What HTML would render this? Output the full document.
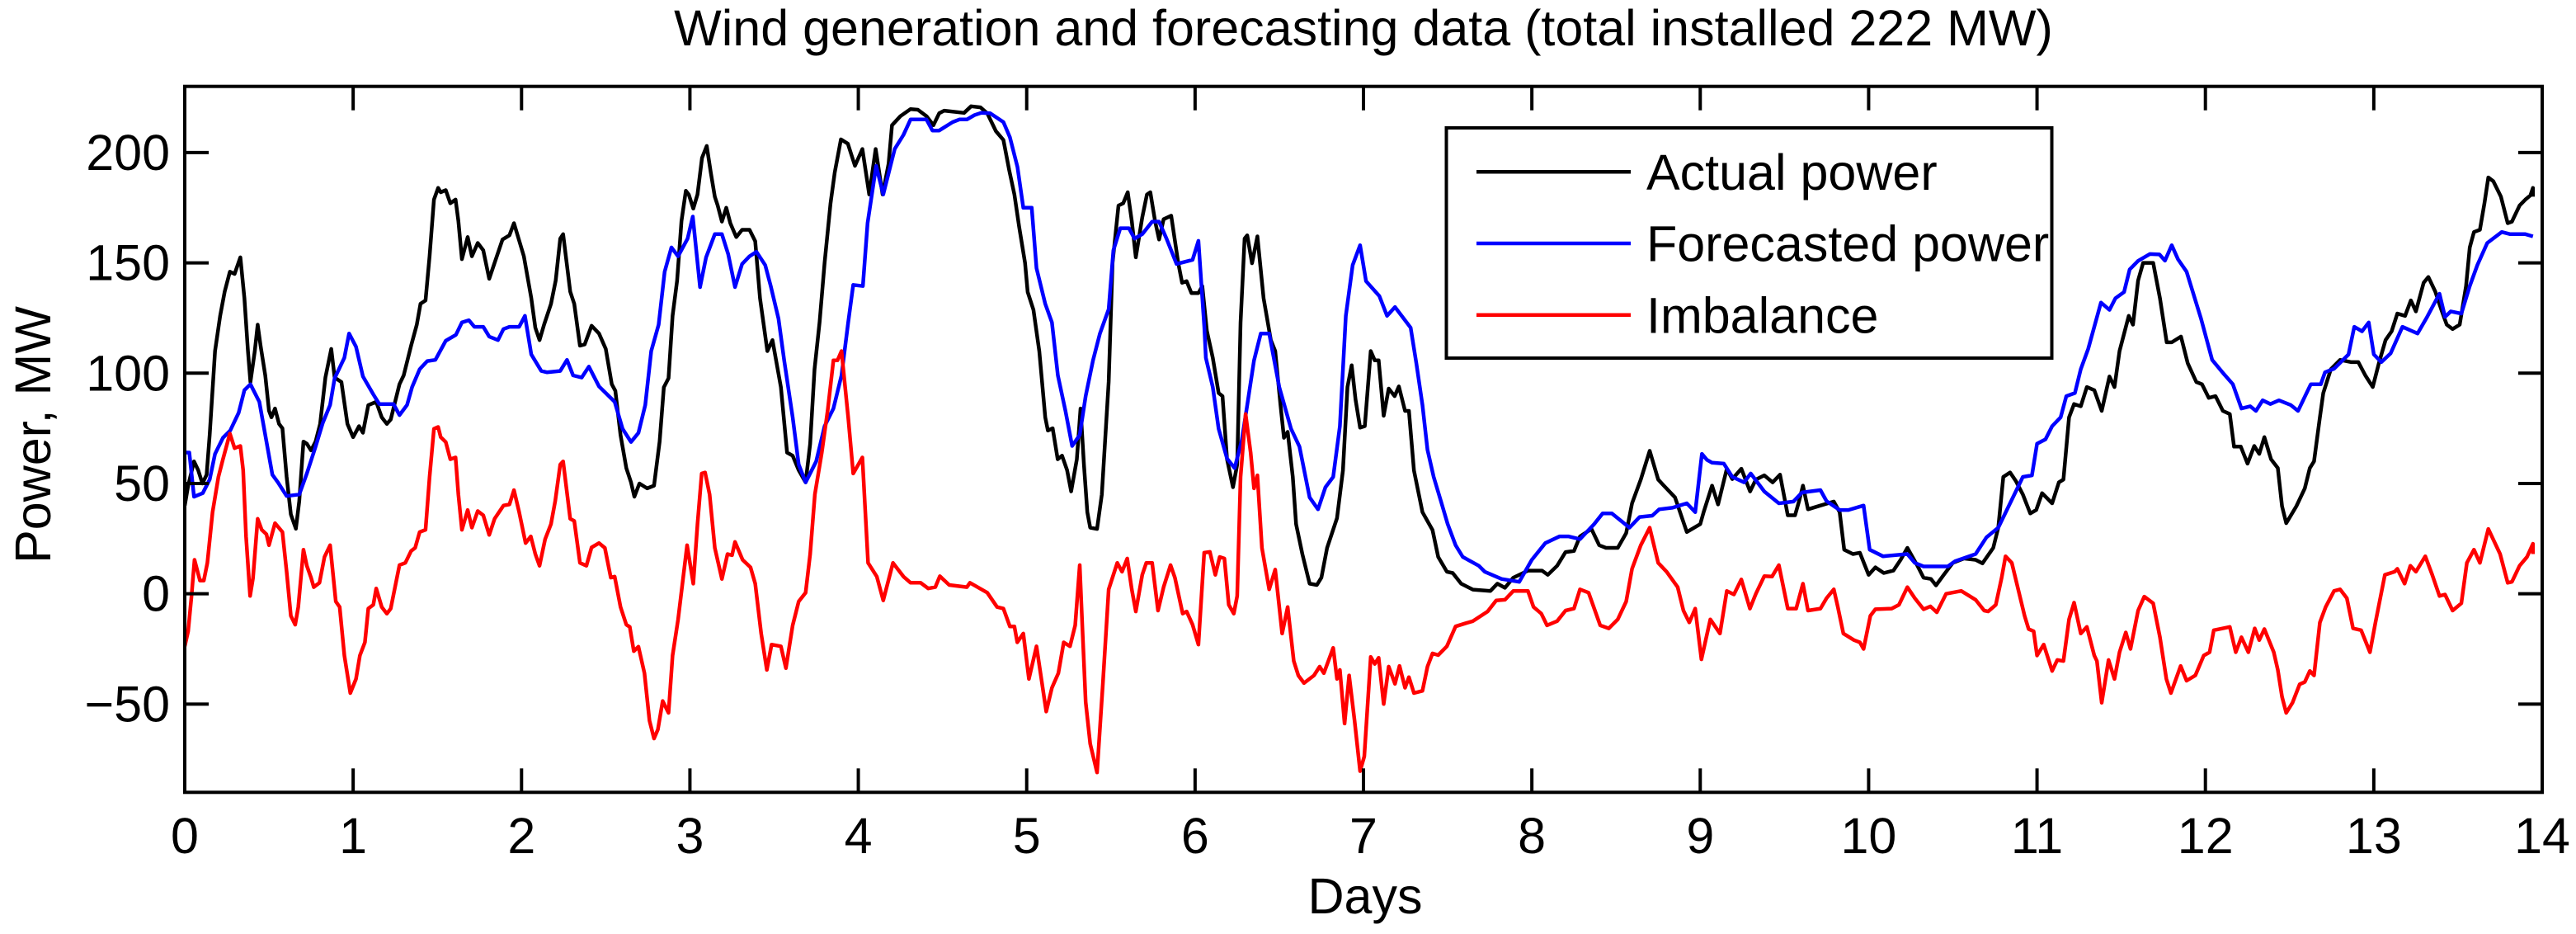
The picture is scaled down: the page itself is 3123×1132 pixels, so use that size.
<!DOCTYPE html>
<html lang="en">
<head>
<meta charset="utf-8">
<title>Wind generation and forecasting data</title>
<style>
html,body{margin:0;padding:0;background:#fff;}
svg{display:block;}
text{font-family:"Liberation Sans",Arial,sans-serif;fill:#000;}
</style>
</head>
<body>
<svg id="chart" xmlns="http://www.w3.org/2000/svg" width="3123" height="1132" viewBox="0 0 3123 1132">
  <rect x="0" y="0" width="3123" height="1132" fill="#fff"/>
  <text x="1653" y="55" font-size="61" text-anchor="middle">Wind generation and forecasting data (total installed 222 MW)</text>
  <g id="series"></g>
  <g id="axes"></g>
  <text x="1655" y="1107" font-size="61" text-anchor="middle">Days</text>
  <text transform="translate(61,527) rotate(-90)" font-size="61" text-anchor="middle">Power, MW</text>
  <g>
    <rect x="1753.5" y="155" width="734" height="279" fill="#fff" stroke="#000" stroke-width="4"/>
    <line x1="1790" x2="1977" y1="208.3" y2="208.3" stroke="#000" stroke-width="4.5"/>
    <text x="1996" y="230" font-size="61">Actual power</text>
    <line x1="1790" x2="1977" y1="295" y2="295" stroke="#0000ff" stroke-width="4.5"/>
    <text x="1996" y="316.7" font-size="61">Forecasted power</text>
    <line x1="1790" x2="1977" y1="381.7" y2="381.7" stroke="#ff0000" stroke-width="4.5"/>
    <text x="1996" y="403.4" font-size="61">Imbalance</text>
  </g>
</svg>
<script>
const xTicks = [0,1,2,3,4,5,6,7,8,9,10,11,12,13,14];
const yTicks = [-50,0,50,100,150,200];

const actualDays = [
0,.02,.055,.08,.105,.13,.148,.18,.21,.237,.268,.296,.33,.354,.375,.39,.416,.433,.45,.478,
.5,.515,.536,.56,.58,.605,.63,.66,.68,.705,.725,.75,.777,.804,.835,.87,.89,.93,.966,1,
1.035,1.058,1.09,1.137,1.17,1.2,1.223,1.275,1.3,1.344,1.378,1.4,1.43,1.454,1.48,1.505,1.52,1.55,1.577,1.608,
1.625,1.646,1.68,1.705,1.74,1.773,1.808,1.84,1.887,1.928,1.955,2.014,2.058,2.082,2.107,2.134,2.175,2.203,2.23,2.247,
2.289,2.313,2.347,2.375,2.416,2.46,2.5,2.536,2.557,2.588,2.622,2.65,2.67,2.7,2.746,2.787,2.82,2.845,2.873,2.897,
2.924,2.95,2.976,2.993,3.02,3.045,3.072,3.1,3.124,3.148,3.165,3.19,3.216,3.24,3.275,3.31,3.354,3.388,3.416,3.46,
3.49,3.54,3.577,3.61,3.646,3.687,3.714,3.74,3.77,3.8,3.835,3.86,3.897,3.938,3.98,4.024,4.065,4.103,4.144,4.18,
4.2,4.25,4.31,4.354,4.405,4.446,4.48,4.51,4.628,4.67,4.725,4.766,4.817,4.862,4.896,4.927,4.955,4.99,5.006,5.04,
5.075,5.11,5.126,5.154,5.184,5.21,5.24,5.264,5.298,5.32,5.34,5.36,5.377,5.418,5.446,5.487,5.51,5.545,5.573,5.6,
5.624,5.648,5.686,5.714,5.734,5.762,5.786,5.813,5.858,5.9,5.923,5.95,5.978,6.02,6.043,6.07,6.105,6.14,6.163,6.19,
6.225,6.25,6.27,6.294,6.31,6.338,6.37,6.407,6.45,6.476,6.507,6.528,6.55,6.58,6.6,6.637,6.68,6.723,6.75,6.784,
6.843,6.878,6.905,6.93,6.953,6.98,7.008,7.043,7.067,7.09,7.12,7.15,7.185,7.21,7.247,7.27,7.3,7.35,7.41,7.444,
7.495,7.53,7.58,7.65,7.754,7.795,7.84,7.89,7.977,8.06,8.095,8.15,8.2,8.25,8.286,8.354,8.4,8.44,8.51,8.56,
8.595,8.647,8.7,8.75,8.785,8.85,8.92,9,9.02,9.07,9.106,9.158,9.19,9.244,9.296,9.33,9.38,9.43,9.474,9.52,
9.563,9.587,9.61,9.64,9.714,9.793,9.828,9.855,9.907,9.948,10,10.04,10.09,10.147,10.19,10.23,10.29,10.326,10.37,10.4,
10.446,10.5,10.566,10.635,10.676,10.74,10.77,10.8,10.84,10.875,10.916,10.96,10.995,11.03,11.09,11.13,11.157,11.19,11.22,11.26,
11.296,11.34,11.384,11.43,11.46,11.49,11.545,11.57,11.6,11.63,11.69,11.73,11.77,11.8,11.855,11.895,11.946,11.98,12.02,12.06,
12.104,12.145,12.17,12.21,12.25,12.29,12.32,12.35,12.39,12.43,12.455,12.48,12.54,12.59,12.62,12.645,12.68,12.7,12.745,12.8,
12.867,12.908,12.95,12.994,13.03,13.07,13.106,13.14,13.186,13.22,13.25,13.296,13.324,13.365,13.4,13.433,13.468,13.51,13.548,13.57,
13.595,13.63,13.657,13.68,13.71,13.755,13.795,13.82,13.866,13.9,13.93,13.945,13.945
];
const actualPower = [
40,49,60,56,50,54,72,110,126,137,146,145,152.5,134,110,96,110,122,112.5,99,
83,80,84,77,75,53,36,29.5,42,69,68,65,69,77,98,111,98,96,77,71,
76,73,85.5,87,80,77,79,95,99,112.5,122,131.5,133,153,178.7,184,182,183,177,178.7,
169,151.7,161.7,153,159,155.7,142.8,150,160.6,162.5,168,153,134,120.6,115,122,131.4,142,161,163,
137,131.4,112.5,113,121.5,118,111,95,92,72,57,50.5,44,50,47.8,49,69,93.6,97.7,126,
142,169,182.7,181,174.6,181,197.6,203,191,180,176,168.7,175,168,161.7,165,165,159.8,134,110,
115,93.7,64,62.6,56,50.5,68,101.8,123,150,177,191,206,204,194,201.6,181,201.6,181,195,
212.4,216.5,219.7,219.4,216.5,212.4,217.8,219,218,221,220.5,217.8,209.7,205.7,192,181,166.5,150,136.8,128.7,
109.9,80,74,75,61,62.6,56,46.4,61,84,58.6,37,30,29.4,45,96,150,176,177,182,
169,152.5,170.6,181,182,169,160.6,169.8,171.4,150,141,141.7,136.3,136.3,139.5,119.3,107,91,89.6,61,
48.3,58.6,123,161,162.5,149.8,162,134,115,110,85.6,70.7,73.4,53,31.6,18,4.6,4,7.3,20.8,
34.3,55.9,93.7,103.6,88,75.3,76,110,105.8,105.8,80.7,93,89.6,94,82.9,82.9,55.9,37,28.9,16.7,
10,9.4,4.6,1.9,1.3,4.6,2.7,7.3,10.5,10.5,8.6,12.7,18.9,19.4,26,29.4,22,20.8,20.8,27.5,
41,51.8,64.8,51.8,48.9,43.7,28,31.6,37,49,40.5,56.7,52,56.7,46.4,51.8,53.7,50.5,54,35.6,
35.6,42,49,38.3,40,41.8,37,20,18,18.6,8.6,12,9.4,10.5,15.4,20.8,12.7,7.3,6.7,3.8,
8.6,14,16,15.4,13.8,20.8,30,53,55,51,45,36.4,38,45.6,41,50.5,51.8,80,86,85,
93.7,92.3,82.9,98.5,93.7,110,126,122,142,150,150,134,114,114,116.6,104.5,96,95,88.8,89.6,
82.9,81.5,66.7,66.7,59,67,63.4,71,61,57,39.7,32,39.7,47.8,57,60,80,91,101.8,106,
105,105,99,93.7,104.5,115,119,127,126,133,128,141,143.6,137,129,122,120,122,139.5,157,
164,165,177,188.7,187,180,168,168.7,176,178.7,180.6,184,180
];

const forecastDays = [
0,.027,.055,.107,.148,.18,.227,.27,.32,.354,.39,.443,.478,.52,.553,.605,.68,.725,.777,.82,
.863,.89,.948,.976,1.017,1.058,1.12,1.155,1.24,1.275,1.32,1.35,1.395,1.44,1.488,1.55,1.61,1.646,1.687,1.72,
1.773,1.808,1.86,1.893,1.928,1.986,2.02,2.058,2.117,2.15,2.23,2.27,2.306,2.357,2.4,2.46,2.553,2.6,2.65,2.694,
2.735,2.77,2.814,2.85,2.89,2.93,2.986,3.017,3.06,3.096,3.148,3.19,3.227,3.268,3.31,3.354,3.395,3.447,3.48,3.526,
3.56,3.61,3.646,3.687,3.75,3.8,3.852,3.9,3.94,3.97,4.027,4.055,4.106,4.148,4.216,4.268,4.31,4.405,4.44,4.48,
4.56,4.6,4.645,4.69,4.73,4.783,4.862,4.9,4.945,4.98,5.03,5.058,5.11,5.15,5.185,5.23,5.27,5.315,5.35,5.394,
5.435,5.487,5.515,5.556,5.607,5.64,5.686,5.745,5.786,5.83,5.89,5.985,6.02,6.055,6.064,6.105,6.14,6.19,6.235,6.277,
6.31,6.35,6.39,6.44,6.5,6.57,6.62,6.68,6.73,6.774,6.82,6.86,6.895,6.936,6.98,7.015,7.094,7.14,7.187,7.28,
7.314,7.35,7.38,7.417,7.46,7.5,7.547,7.59,7.685,7.72,7.82,7.925,8,8.08,8.165,8.217,8.286,8.37,8.42,8.475,
8.58,8.64,8.715,8.756,8.835,8.92,8.97,9.01,9.04,9.07,9.14,9.19,9.26,9.3,9.38,9.467,9.553,9.604,9.714,9.75,
9.828,9.88,9.97,10.006,10.085,10.23,10.274,10.326,10.47,10.514,10.635,10.7,10.77,10.84,10.916,10.97,11,11.05,11.09,11.14,
11.174,11.225,11.26,11.304,11.38,11.43,11.466,11.517,11.55,11.6,11.67,11.727,11.76,11.8,11.837,11.888,11.974,12.04,12.11,12.163,
12.214,12.266,12.3,12.34,12.386,12.437,12.506,12.55,12.626,12.685,12.71,12.764,12.85,12.884,12.93,12.97,13,13.045,13.1,13.17,
13.26,13.313,13.39,13.423,13.457,13.52,13.57,13.615,13.674,13.76,13.81,13.9,13.945
];
const forecastPower = [
64,64,44,45.6,51.8,63.4,70.7,74,82,92.3,95,87,72,54,50.5,44.3,45,54.5,66.7,77.5,
85.6,97.7,107,118,112,98.5,90.4,86,86,81,85.6,93.7,101.8,105.5,106,114.7,117.4,123,124,121,
121,116.6,115,120,121,121,126,108.5,101,100.4,101,106,99,98,103,94,87,74.8,68.8,72.9,
85.6,110,122,146,157,153,161,171,139,152.5,163,163,154,139,149.5,153,155,149,139.5,124.7,
105.8,80,58.6,50.5,60,76,84,99,123,140,139.5,168,194,181,201.6,208,215,215,210,210,
213.8,215,215,217,218,217.8,213.8,207,193.5,175,175,147.6,131.4,123,99,82.9,67,72,89.6,105.8,
118,129,155.7,165.7,165.7,161,163,168.7,168.7,161,149.5,151.4,160,120.6,107,93.7,74.8,61.3,57,69.4,
85.6,105.8,118,118,93.7,74.8,66.7,43.7,38.3,48.3,53,76,126,149,158,141.7,135,126,130,120.6,
104.5,85.6,65.3,53,42,31.6,22,16.7,12.7,10,6.7,5.4,15.4,23,26,26,24.8,31.6,36.4,36.4,
30,34.8,35.4,38.3,39,41,37,63.4,60.7,59.4,59,53,50.5,54.5,46.4,41,41.8,45.9,47,42,
38,38,40,20,17,18,14,12.4,12.4,14.8,18,25.6,30,41,53,53.7,68,70,76,80,
89.6,91,101.8,111,132,128.7,134,136.8,147,150.9,154,153.8,151,158,151.7,146,124.7,106,99.6,95,
84,85,82.9,87.7,86,87.7,85.6,82.9,95,95,100.4,102,108.5,121,119,123,108.5,105,109,121,
118,125,136,125.5,128,127,139.5,149,159,164,163,163,162
];

const imbalanceDays = [
0,.02,.04,.058,.09,.113,.134,.165,.2,.227,.268,.296,.33,.347,.364,.388,.405,.433,.457,.485,
.5,.536,.58,.605,.63,.656,.674,.705,.725,.75,.766,.8,.83,.863,.897,.92,.948,.983,1.017,1.04,
1.07,1.09,1.12,1.137,1.17,1.2,1.223,1.275,1.31,1.344,1.368,1.395,1.43,1.454,1.48,1.505,1.52,1.55,1.577,1.608,
1.625,1.646,1.68,1.705,1.74,1.773,1.808,1.84,1.893,1.928,1.955,1.986,2.024,2.055,2.082,2.107,2.14,2.175,2.2,2.23,
2.247,2.289,2.313,2.347,2.385,2.416,2.46,2.495,2.53,2.553,2.588,2.622,2.643,2.667,2.694,2.73,2.76,2.787,2.81,2.838,
2.873,2.897,2.93,2.983,3.02,3.045,3.07,3.09,3.117,3.148,3.19,3.223,3.25,3.268,3.313,3.36,3.388,3.423,3.457,3.485,
3.54,3.57,3.61,3.646,3.687,3.714,3.742,3.783,3.818,3.852,3.876,3.9,3.94,3.97,4.024,4.058,4.11,4.148,4.206,4.268,
4.31,4.37,4.415,4.457,4.484,4.54,4.645,4.663,4.766,4.824,4.862,4.9,4.927,4.944,4.98,5.013,5.058,5.116,5.15,5.188,
5.22,5.257,5.288,5.315,5.33,5.35,5.377,5.418,5.452,5.487,5.538,5.566,5.597,5.624,5.648,5.686,5.71,5.745,5.78,5.813,
5.854,5.88,5.926,5.95,5.985,6.02,6.054,6.088,6.12,6.146,6.174,6.2,6.23,6.25,6.27,6.3,6.33,6.35,6.37,6.397,
6.44,6.476,6.517,6.55,6.586,6.613,6.647,6.706,6.74,6.765,6.82,6.843,6.86,6.888,6.915,6.947,6.98,7.005,7.043,7.067,
7.09,7.12,7.15,7.187,7.214,7.247,7.27,7.3,7.35,7.38,7.41,7.444,7.495,7.547,7.6,7.65,7.737,7.788,7.84,7.89,
7.977,8.01,8.056,8.09,8.15,8.2,8.25,8.286,8.337,8.406,8.457,8.51,8.56,8.595,8.647,8.7,8.75,8.8,8.866,8.9,
8.935,8.97,9.007,9.06,9.117,9.158,9.2,9.244,9.295,9.33,9.38,9.426,9.467,9.52,9.57,9.61,9.64,9.714,9.75,9.793,
9.817,9.85,9.913,9.948,9.97,10.01,10.04,10.137,10.18,10.23,10.274,10.326,10.367,10.405,10.46,10.55,10.635,10.686,10.71,10.755,
10.79,10.813,10.85,10.885,10.926,10.95,10.98,11,11.04,11.09,11.12,11.157,11.19,11.22,11.26,11.296,11.34,11.356,11.384,11.425,
11.46,11.49,11.527,11.555,11.6,11.637,11.69,11.73,11.768,11.795,11.853,11.888,11.94,11.99,12.025,12.05,12.104,12.145,12.18,12.214,
12.255,12.293,12.32,12.35,12.406,12.43,12.455,12.48,12.517,12.56,12.59,12.62,12.645,12.68,12.714,12.764,12.8,12.84,12.877,12.925,
12.977,13.01,13.066,13.124,13.14,13.183,13.217,13.25,13.306,13.347,13.39,13.423,13.468,13.52,13.553,13.595,13.63,13.68,13.75,13.795,
13.82,13.866,13.91,13.945,13.945
];
const imbalancePower = [
-23.8,-17,-1,15.4,6,6,14,37,53,61,72.6,66,67,56,26,-1,7,34,29,27,
22,32,28,10,-10,-14,-6,20,12.7,7.3,3,5,16.7,22,-3.5,-6,-28,-45,-38.6,-28,
-22,-6.7,-5,2.4,-6,-9,-6.7,13,14,19.4,20.8,28,29,53,74.8,75.6,71,68.8,61,61.8,
45,29,38,30,37.5,35.6,26.7,34,40,40.5,47,37,23,26,18,12.7,24.8,31.6,42,58.6,
60,34,33,14,12.7,21,23,20.8,7.3,7.8,-6,-14,-15,-26,-24,-36,-57.5,-65.6,-61.5,-48.6,
-54,-28,-11.6,22,4.6,31.6,54.5,55,45,20.8,6.7,18,17.5,23.5,15.4,12,4.6,-18,-34.5,-23,
-23.8,-33.7,-14.3,-3.5,.5,18,45,64,83,105.8,105.8,110,80,54.5,61.8,14,7.8,-3,14,7.8,
5,5,2.4,3,8,4,3,5,.5,-6,-6.7,-14.8,-14.8,-22,-18,-38.6,-23.8,-53.4,-42.6,-36,
-22,-23.8,-14.3,13,-14.3,-49,-68,-81,-41,2,14,10,16,2,-8,8.6,14,14,-7.6,3,
13,7.3,-9,-8,-14,-23,18.6,19,8.6,16.7,16,-5,-9,-1,53,81.5,64,47.8,53.7,20.8,
2,11,-18,-6,-30.5,-37,-40.5,-37,-33,-36,-24.5,-38.6,-34.5,-58.8,-37,-57.5,-80.4,-73.7,-28.6,-31.8,
-29,-50,-33,-40.8,-32.7,-42.6,-37.8,-45,-44,-33,-27,-27.8,-23.8,-14.8,-13.5,-12.4,-8,-3,-2.7,1.3,
1.3,-6,-9,-14.3,-12.4,-7.6,-6.7,2,.5,-14.3,-15.7,-11.6,-3.5,11.3,22,30,14,10,3,-7.6,
-13,-6.7,-29.7,-11.6,-18,1.3,-.3,6.5,-6.7,0,8,7.8,13,-6.7,-6.7,4.6,-7.6,-6.7,-2,2,
-6,-18,-21,-22,-25,-10,-7,-6.7,-5,3,-2,-7,-5.7,-8.4,0,1.3,-2.7,-7.6,-8,-5,
7.3,17,14,3,-10,-16,-17,-28,-23,-35,-30,-30.5,-11.6,-4,-18,-15,-28,-30.5,-49.4,-30,
-38.6,-26.5,-17.5,-25,-7.6,-1.3,-4.3,-19.7,-38.6,-45,-32.7,-39.4,-37,-28,-26.5,-16.5,-15.7,-15,-26.5,-19.7,
-26.5,-15.7,-21,-16,-26.5,-34.5,-46.7,-54,-49.4,-41,-40,-35,-37,-13,-6,1.3,2,-2,-15.7,-16.5,
-26.5,-13,8.6,10,11.3,4.6,12.7,10,17,8.6,-1,-.3,-7.6,-4.3,14,20,14,29.4,18,5,
5.4,12.7,16.7,22.7,18
];

const plotLeft = 224, plotRight = 3082, plotTop = 104.7, plotBottom = 960.3;
const dayMin = 0, dayMax = 14, powerMin = -90, powerMax = 230;
const SVG_NS = 'http://www.w3.org/2000/svg';

function xScale(day) {
  return plotLeft + (day - dayMin) / (dayMax - dayMin) * (plotRight - plotLeft);
}
function yScale(power) {
  return plotBottom - (power - powerMin) / (powerMax - powerMin) * (plotBottom - plotTop);
}
function linePoints(days, values) {
  const out = [];
  const n = Math.min(days.length, values.length);
  for (let i = 0; i < n; i++) {
    out.push(xScale(days[i]).toFixed(1) + ',' + yScale(values[i]).toFixed(1));
  }
  return out.join(' ');
}
function makeEl(tag) {
  return document.createElementNS(SVG_NS, tag);
}

const seriesGroup = document.getElementById('series');
const axesGroup = document.getElementById('axes');

const actualLine = makeEl('polyline');


actualLine.setAttribute('points', linePoints(actualDays, actualPower));
actualLine.setAttribute('fill', 'none');
actualLine.setAttribute('stroke', '#000000');
actualLine.setAttribute('stroke-width', '4.5');
actualLine.setAttribute('stroke-linejoin', 'round');
seriesGroup.appendChild(actualLine);

const forecastLine = makeEl('polyline');


forecastLine.setAttribute('points', linePoints(forecastDays, forecastPower));
forecastLine.setAttribute('fill', 'none');
forecastLine.setAttribute('stroke', '#0000ff');
forecastLine.setAttribute('stroke-width', '4.5');
forecastLine.setAttribute('stroke-linejoin', 'round');
seriesGroup.appendChild(forecastLine);

const imbalanceLine = makeEl('polyline');


imbalanceLine.setAttribute('points', linePoints(imbalanceDays, imbalancePower));
imbalanceLine.setAttribute('fill', 'none');
imbalanceLine.setAttribute('stroke', '#ff0000');
imbalanceLine.setAttribute('stroke-width', '4.5');
imbalanceLine.setAttribute('stroke-linejoin', 'round');
seriesGroup.appendChild(imbalanceLine);

const frame = makeEl('rect');


frame.setAttribute('x', plotLeft);
frame.setAttribute('y', plotTop);
frame.setAttribute('width', plotRight - plotLeft);
frame.setAttribute('height', plotBottom - plotTop);
frame.setAttribute('fill', 'none');
frame.setAttribute('stroke', '#000');
frame.setAttribute('stroke-width', '4');
axesGroup.appendChild(frame);

const tickLength = 29;

xTicks.forEach(function (day) {
  const x = xScale(day);
  [[plotBottom, plotBottom - tickLength], [plotTop, plotTop + tickLength]].forEach(function (ends) {
    const tick = makeEl('line');
    
    
    tick.setAttribute('x1', x);
    tick.setAttribute('x2', x);
    tick.setAttribute('y1', ends[0]);
    tick.setAttribute('y2', ends[1]);
    tick.setAttribute('stroke', '#000');
    tick.setAttribute('stroke-width', '4');
    axesGroup.appendChild(tick);
  });
  const label = makeEl('text');
  
  
  label.setAttribute('x', x);
  label.setAttribute('y', 1034);
  label.setAttribute('font-size', '61');
  label.setAttribute('text-anchor', 'middle');
  label.textContent = String(day);
  axesGroup.appendChild(label);
});

yTicks.forEach(function (power) {
  const y = yScale(power);
  [[plotLeft, plotLeft + tickLength], [plotRight, plotRight - tickLength]].forEach(function (ends) {
    const tick = makeEl('line');
    
    
    tick.setAttribute('x1', ends[0]);
    tick.setAttribute('x2', ends[1]);
    tick.setAttribute('y1', y);
    tick.setAttribute('y2', y);
    tick.setAttribute('stroke', '#000');
    tick.setAttribute('stroke-width', '4');
    axesGroup.appendChild(tick);
  });
  const label = makeEl('text');
  
  
  label.setAttribute('x', 206);
  label.setAttribute('y', y + 21);
  label.setAttribute('font-size', '61');
  label.setAttribute('text-anchor', 'end');
  label.textContent = String(power).replace('-', '\u2212');
  axesGroup.appendChild(label);
});
</script>
</body>
</html>
